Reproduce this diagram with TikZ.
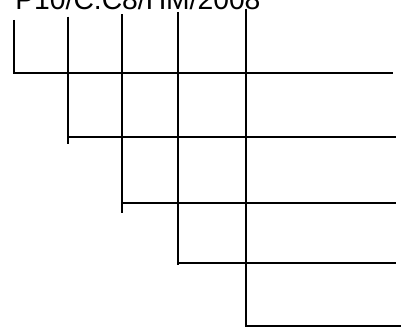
\documentclass[tikz,border=0pt]{standalone}
\usepackage{fontspec}
\setmainfont{Liberation Sans}
\usetikzlibrary{calc}

\begin{document}
\begin{tikzpicture}[x=0.75pt, y=-0.75pt, line width=1.3pt]

% Frame of the picture (clips the title at the top)
\useasboundingbox (0,0) rectangle (401,328);

% Title
\node[font=\fontsize{21.2}{26}\selectfont, anchor=base west, inner sep=0pt] (title) at (14.5,9.3) {P10/C.C8/HM/2008};

% =========== Vertical stems ===========
\coordinate (top1) at (13.7,20);
\coordinate (top2) at (67.7,16.7);
\coordinate (top3) at (121.7,14.3);
\coordinate (top4) at (178.3,12);
\coordinate (top5) at (246,9);

\coordinate (bot1) at (13.7,74);
\coordinate (bot2) at (67.7,144);
\coordinate (bot3) at (121.7,213);
\coordinate (bot4) at (178.3,265);
\coordinate (bot5) at (246,327);

\foreach \i in {1,...,5} {
  \draw (top\i) -- (bot\i);
}

% =========== Horizontal rows ===========
\coordinate (row1) at (13.7,72.7);
\coordinate (row2) at (67.7,136.7);
\coordinate (row3) at (121.7,203.3);
\coordinate (row4) at (178.3,262.7);
\coordinate (row5) at (246,326);

\coordinate (end1) at (392.7,72.7);
\coordinate (end2) at (396,136.7);
\coordinate (end3) at (396,203.3);
\coordinate (end4) at (396,262.7);
\coordinate (end5) at (401,326);

\foreach \i in {1,...,5} {
  \draw (row\i) -- (end\i);
}

\end{tikzpicture}
\end{document}
